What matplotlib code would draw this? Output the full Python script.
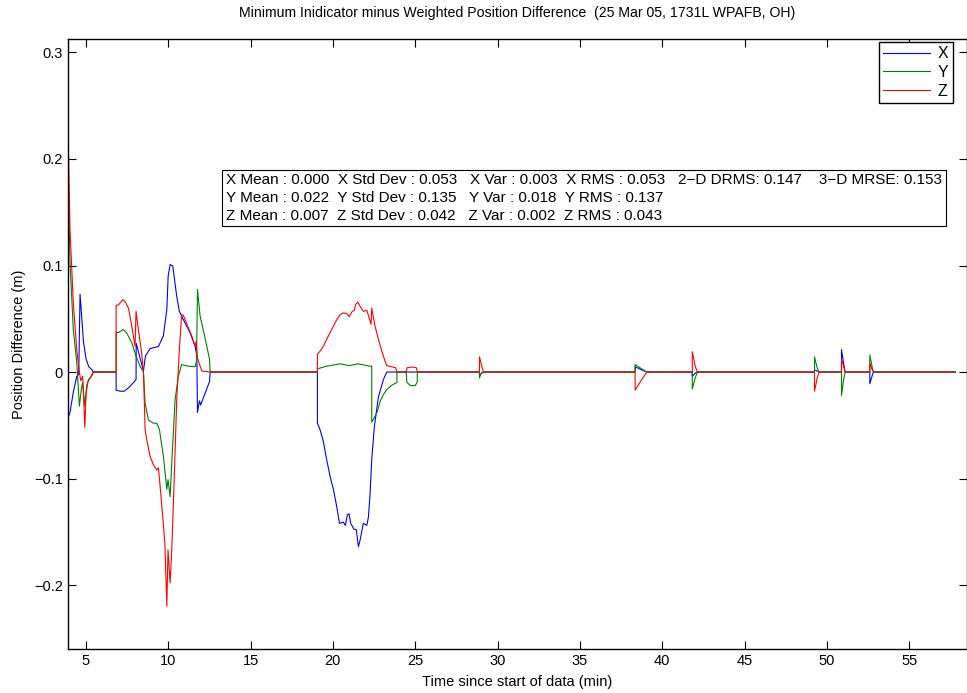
import matplotlib
matplotlib.use("Agg")
import matplotlib.pyplot as plt
from matplotlib.ticker import FuncFormatter

plt.rcParams['font.family'] = ['Liberation Sans', 'DejaVu Sans']

# X (blue)
x_t = [3.94, 4.04, 4.24, 4.45, 4.57, 4.65, 4.75, 4.86, 4.93, 5.02, 5.18, 5.38, 5.46,
       6.84, 6.84, 7.08, 7.33, 7.58, 7.89, 8.05, 8.06, 8.50, 8.62, 8.90, 9.41, 9.71, 9.92,
       10.0, 10.12, 10.28, 10.36, 10.52, 10.68, 10.93, 11.33, 11.64, 11.74, 11.78, 11.90,
       11.97, 12.24, 12.51, 12.55,
       19.06, 19.06, 19.22, 19.42, 19.62, 19.83, 20.03, 20.23, 20.40, 20.64, 20.76, 20.88,
       20.98, 21.08, 21.28, 21.42, 21.55, 21.65, 21.85, 22.06, 22.16, 22.26, 22.36, 22.52,
       22.77, 23.07, 23.27,
       28.90, 28.90, 29.04, 29.14,
       38.35, 38.35, 38.75, 39.06,
       41.82, 41.82, 42.0, 42.13,
       49.24, 49.24, 49.40, 49.52,
       50.88, 50.88, 51.0, 51.10,
       52.60, 52.60, 52.75, 52.82,
       57.8]
x_v = [-0.042, -0.038, -0.019, -0.004, -0.002, 0.073, 0.052, 0.028, 0.021, 0.012, 0.005, 0.002, 0,
       0, -0.017, -0.018, -0.018, -0.015, -0.010, -0.007, 0.027, 0.001, 0.015, 0.022, 0.024, 0.034, 0.059,
       0.090, 0.101, 0.0995, 0.090, 0.071, 0.057, 0.049, 0.037, 0.024, 0.015, -0.038, -0.027,
       -0.031, -0.020, -0.009, 0,
       0, -0.048, -0.054, -0.065, -0.082, -0.098, -0.110, -0.126, -0.142, -0.141, -0.144, -0.134,
       -0.133, -0.142, -0.1475, -0.148, -0.164, -0.158, -0.142, -0.144, -0.136, -0.114, -0.082, -0.051,
       -0.023, -0.007, 0,
       0, -0.003, -0.001, 0,
       0, 0.005, 0.002, 0,
       0, -0.004, -0.001, 0,
       0, 0.002, 0.001, 0,
       0, 0.021, 0.009, 0,
       0, -0.011, -0.003, 0,
       0]

# Y (green)
y_t = [3.94, 4.04, 4.24, 4.45, 4.61, 4.73, 4.81, 4.94, 5.06, 5.22, 5.38, 5.46,
       6.84, 6.84, 6.98, 7.27, 7.47, 7.79, 8.05, 8.29, 8.50, 8.60,
       8.80, 9.10, 9.31, 9.47, 9.71, 9.92, 9.99, 10.12, 10.22, 10.42,
       10.62, 10.82, 11.22, 11.64, 11.72, 11.78, 11.94, 12.24, 12.51, 12.55,
       19.06, 19.06, 19.62, 20.44, 20.99, 21.52, 22.26, 22.36, 22.36, 22.56, 22.70, 22.87,
       23.07, 23.27, 23.55, 23.89, 23.89,
       24.45, 24.49, 24.70, 25.0, 25.12, 25.13,
       28.90, 28.90, 29.0, 29.14,
       38.35, 38.35, 38.75, 39.06,
       41.82, 41.82, 42.0, 42.13,
       49.24, 49.24, 49.40, 49.52,
       50.88, 50.88, 51.0, 51.10,
       52.60, 52.60, 52.75, 52.82,
       57.8]
y_v = [0.184, 0.103, 0.040, 0.009, -0.032, -0.016, -0.010, -0.032, -0.012, -0.006, -0.003, 0,
       0, 0.037, 0.037, 0.040, 0.037, 0.0275, 0.015, 0.0055, 0.0, -0.029,
       -0.045, -0.048, -0.048, -0.054, -0.079, -0.110, -0.101, -0.117, -0.085, -0.026,
       -0.004, 0.007, 0.0055, 0.005, 0.0105, 0.0776, 0.0525, 0.032, 0.012, 0,
       0, 0.003, 0.0055, 0.0077, 0.006, 0.0077, 0.0055, 0.0055, -0.047, -0.0415, -0.037, -0.0275,
       -0.021, -0.0165, -0.0127, -0.0096, 0,
       0, -0.0095, -0.0127, -0.0127, -0.0095, 0,
       0, -0.0055, -0.0013, 0,
       0, 0.007, 0.003, 0,
       0, -0.0158, -0.0055, 0,
       0, 0.0143, 0.004, 0,
       0, -0.022, -0.008, 0,
       0, 0.016, 0.004, 0,
       0]

# Z (red)
z_t = [3.94, 4.04, 4.24, 4.45, 4.61, 4.69, 4.81, 4.94, 5.02, 5.14, 5.30, 5.44,
       6.84, 6.84, 6.98, 7.25, 7.39, 7.59, 7.79, 7.99, 8.05, 8.19,
       8.39, 8.50, 8.60, 8.70, 8.90, 9.10, 9.31, 9.41, 9.51, 9.67,
       9.80, 9.92, 9.99, 10.12, 10.22, 10.36, 10.52, 10.68, 10.82, 10.93,
       11.13, 11.43, 11.64, 11.70, 11.78, 12.04, 12.55,
       19.06, 19.06, 19.22, 19.42, 19.73, 20.03, 20.23, 20.44, 20.64, 20.83,
       20.99, 21.18, 21.30, 21.38, 21.52, 21.64, 21.85, 22.06, 22.16, 22.32,
       22.36, 22.56, 22.77, 22.97, 23.13, 23.27, 23.55, 23.81, 23.89,
       24.45, 24.50, 24.80, 25.07, 25.13,
       28.90, 28.90, 29.04, 29.14,
       38.35, 38.35, 38.75, 39.06,
       41.82, 41.82, 42.0, 42.13,
       49.24, 49.24, 49.40, 49.52,
       50.88, 50.88, 51.0, 51.10,
       52.60, 52.60, 52.75, 52.82,
       57.8]
z_v = [0.214, 0.134, 0.065, 0.021, 0.0, -0.008, -0.004, -0.052, -0.020, -0.008, -0.005, 0,
       0, 0.0626, 0.063, 0.068, 0.066, 0.060, 0.043, 0.024, 0.057, 0.040,
       0.018, 0.0, -0.054, -0.0635, -0.079, -0.087, -0.092, -0.090, -0.107, -0.136,
       -0.161, -0.220, -0.167, -0.198, -0.167, -0.104, -0.026, 0.021, 0.054, 0.053,
       0.045, 0.034, 0.024, 0.029, 0.013, 0.001, 0,
       0, 0.0165, 0.0196, 0.024, 0.034, 0.043, 0.049, 0.054, 0.0555, 0.055,
       0.052, 0.057, 0.058, 0.0635, 0.0657, 0.062, 0.057, 0.058, 0.053, 0.0447,
       0.060, 0.043, 0.0306, 0.0196, 0.012, 0.006, 0.005, 0.004, 0,
       0, 0.004, 0.0047, 0.004, 0,
       0, 0.0143, 0.0055, 0,
       0, -0.017, -0.007, 0,
       0, 0.019, 0.0055, 0,
       0, -0.018, -0.006, 0,
       0, 0.012, 0.006, 0,
       0, 0.008, 0.002, 0,
       0]

stats_lines = [
    "X Mean : 0.000  X Std Dev : 0.053   X Var : 0.003  X RMS : 0.053   2\u2212D DRMS: 0.147    3\u2212D MRSE: 0.153",
    "Y Mean : 0.022  Y Std Dev : 0.135   Y Var : 0.018  Y RMS : 0.137",
    "Z Mean : 0.007  Z Std Dev : 0.042   Z Var : 0.002  Z RMS : 0.043",
]

fig = plt.figure(figsize=(9.67, 6.93), dpi=100)
ax = fig.add_axes([0.070, 0.0635, 0.930, 0.880])

ax.plot(x_t, x_v, color=(0, 0, 1), lw=0.8, label='X')
ax.plot(y_t, y_v, color=(0, 0.5, 0), lw=0.8, label='Y')
ax.plot(z_t, z_v, color=(1, 0, 0), lw=0.8, label='Z')

ax.set_xlim(3.9, 58.5)
ax.set_ylim(-0.26, 0.3125)
ax.set_xticks(range(5, 60, 5))
ax.set_yticks([-0.2, -0.1, 0, 0.1, 0.2, 0.3])
ax.yaxis.set_major_formatter(FuncFormatter(lambda v, p: ('%g' % round(v, 3)).replace('-', '\u2212')))
ax.tick_params(direction='in', length=5.5, width=0.8, top=True, right=True, labelsize=10.5)
for s in ax.spines.values():
    s.set_linewidth(1.0)

ax.set_title("Minimum Inidicator minus Weighted Position Difference  (25 Mar 05, 1731L WPAFB, OH)",
             fontsize=10.2, pad=16)
ax.set_xlabel("Time since start of data (min)", fontsize=10.5, labelpad=5)
ax.set_ylabel("Position Difference (m)", fontsize=10.5, labelpad=6)

leg = ax.legend(loc='upper right', bbox_to_anchor=(953 / 967, 1 - 42 / 693),
                bbox_transform=fig.transFigure, borderaxespad=0, fancybox=False,
                edgecolor='black', fontsize=11.5, handlelength=2.9, labelspacing=0.22,
                borderpad=0.28, handletextpad=0.5, framealpha=1)
leg.get_frame().set_linewidth(1.0)

fig.text(226 / 967, 1 - 198 / 693, "\n".join(stats_lines), fontsize=11, va='center', ha='left',
         linespacing=1.32,
         bbox=dict(boxstyle='square,pad=0.25', facecolor='white', edgecolor='black', linewidth=0.8))

fig.savefig("out.png", dpi=100)
